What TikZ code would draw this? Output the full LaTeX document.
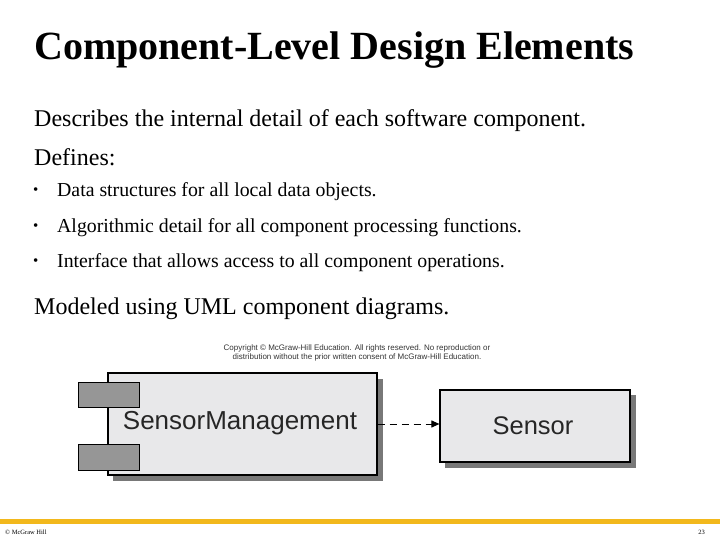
\documentclass[tikz,border=0pt]{standalone}
\usepackage{fontspec}
\setmainfont{Liberation Serif}
\newfontfamily\sansf{Liberation Sans}
\usetikzlibrary{arrows.meta}
\definecolor{boxfill}{RGB}{232,232,234}
\definecolor{tabfill}{RGB}{150,150,150}
\definecolor{shadowc}{RGB}{120,120,120}
\definecolor{gold}{RGB}{242,184,28}
\begin{document}
\begin{tikzpicture}[x=1pt,y=-1pt,
  txt/.style={anchor=west,inner sep=0pt},
  comp/.style={draw=black,line width=1.2pt,fill=boxfill,inner sep=0pt},
  tab/.style={draw=black,line width=1pt,fill=tabfill},
  shadow/.style={fill=shadowc}]
\useasboundingbox (0,0) rectangle (720,540);
\node[txt,font=\bfseries\fontsize{40}{44}\selectfont] (title) at (34,50) {Component-Level Design Elements};
\node[txt,font=\fontsize{24}{28}\selectfont] (l1) at (34,121) {Describes the internal detail of each software component.};
\node[txt,font=\fontsize{24}{28}\selectfont] (l2) at (34,157) {Defines:};
\foreach \y/\t [count=\i] in {192/Data structures for all local data objects.,228/Algorithmic detail for all component processing functions.,263/Interface that allows access to all component operations.}{
  \node[txt,font=\fontsize{15}{18}\selectfont] (b\i) at (33,\y-1) {\textbullet};
  \node[txt,font=\fontsize{19.8}{22}\selectfont] (t\i) at (57,\y) {\t};
}
\node[txt,font=\fontsize{24}{28}\selectfont] (l3) at (34,309) {Modeled using UML component diagrams.};
\node[font=\sansf\fontsize{8}{8.5}\selectfont,align=center,inner sep=0pt,text=black!80] (copy) at (357,353) {Copyright \textcopyright\ McGraw-Hill Education. All rights reserved. No reproduction or\\distribution without the prior written consent of McGraw-Hill Education.};
% shadows
\fill[shadow] (113,379) rectangle (383,481);
\fill[shadow] (445,395) rectangle (636,468);
\draw[comp] (108,373) rectangle (377,475);
\node[comp,draw=none,fill=none,minimum width=269pt,minimum height=102pt] (sm) at (242.5,424) {};
\draw[tab] (78,382) rectangle (139,407);
\draw[tab] (78,444) rectangle (139,470);
\node[font=\sansf\fontsize{26}{30}\selectfont,inner sep=0pt,text=black!85] (smt) at (240,423) {SensorManagement};
\node[comp,minimum width=190pt,minimum height=72pt] (s) at (535,426) {};
\node[font=\sansf\fontsize{25.5}{30}\selectfont,inner sep=0pt,text=black!85] at (533,426) {Sensor};
\draw[dashed,dash pattern=on 7pt off 5pt,line width=1pt,-{Triangle[length=8pt,width=7pt]}] (sm.east |- 0,424) -- (s.west |- 0,424);
\fill[gold] (0,519) rectangle (720,524);
\node[txt,font=\fontsize{6.5}{7}\selectfont] (foot) at (5,532) {\textcopyright\ McGraw Hill};
\node[anchor=east,inner sep=0pt,font=\fontsize{6.5}{7}\selectfont] (pg) at (705,532) {23};
\end{tikzpicture}
\end{document}
